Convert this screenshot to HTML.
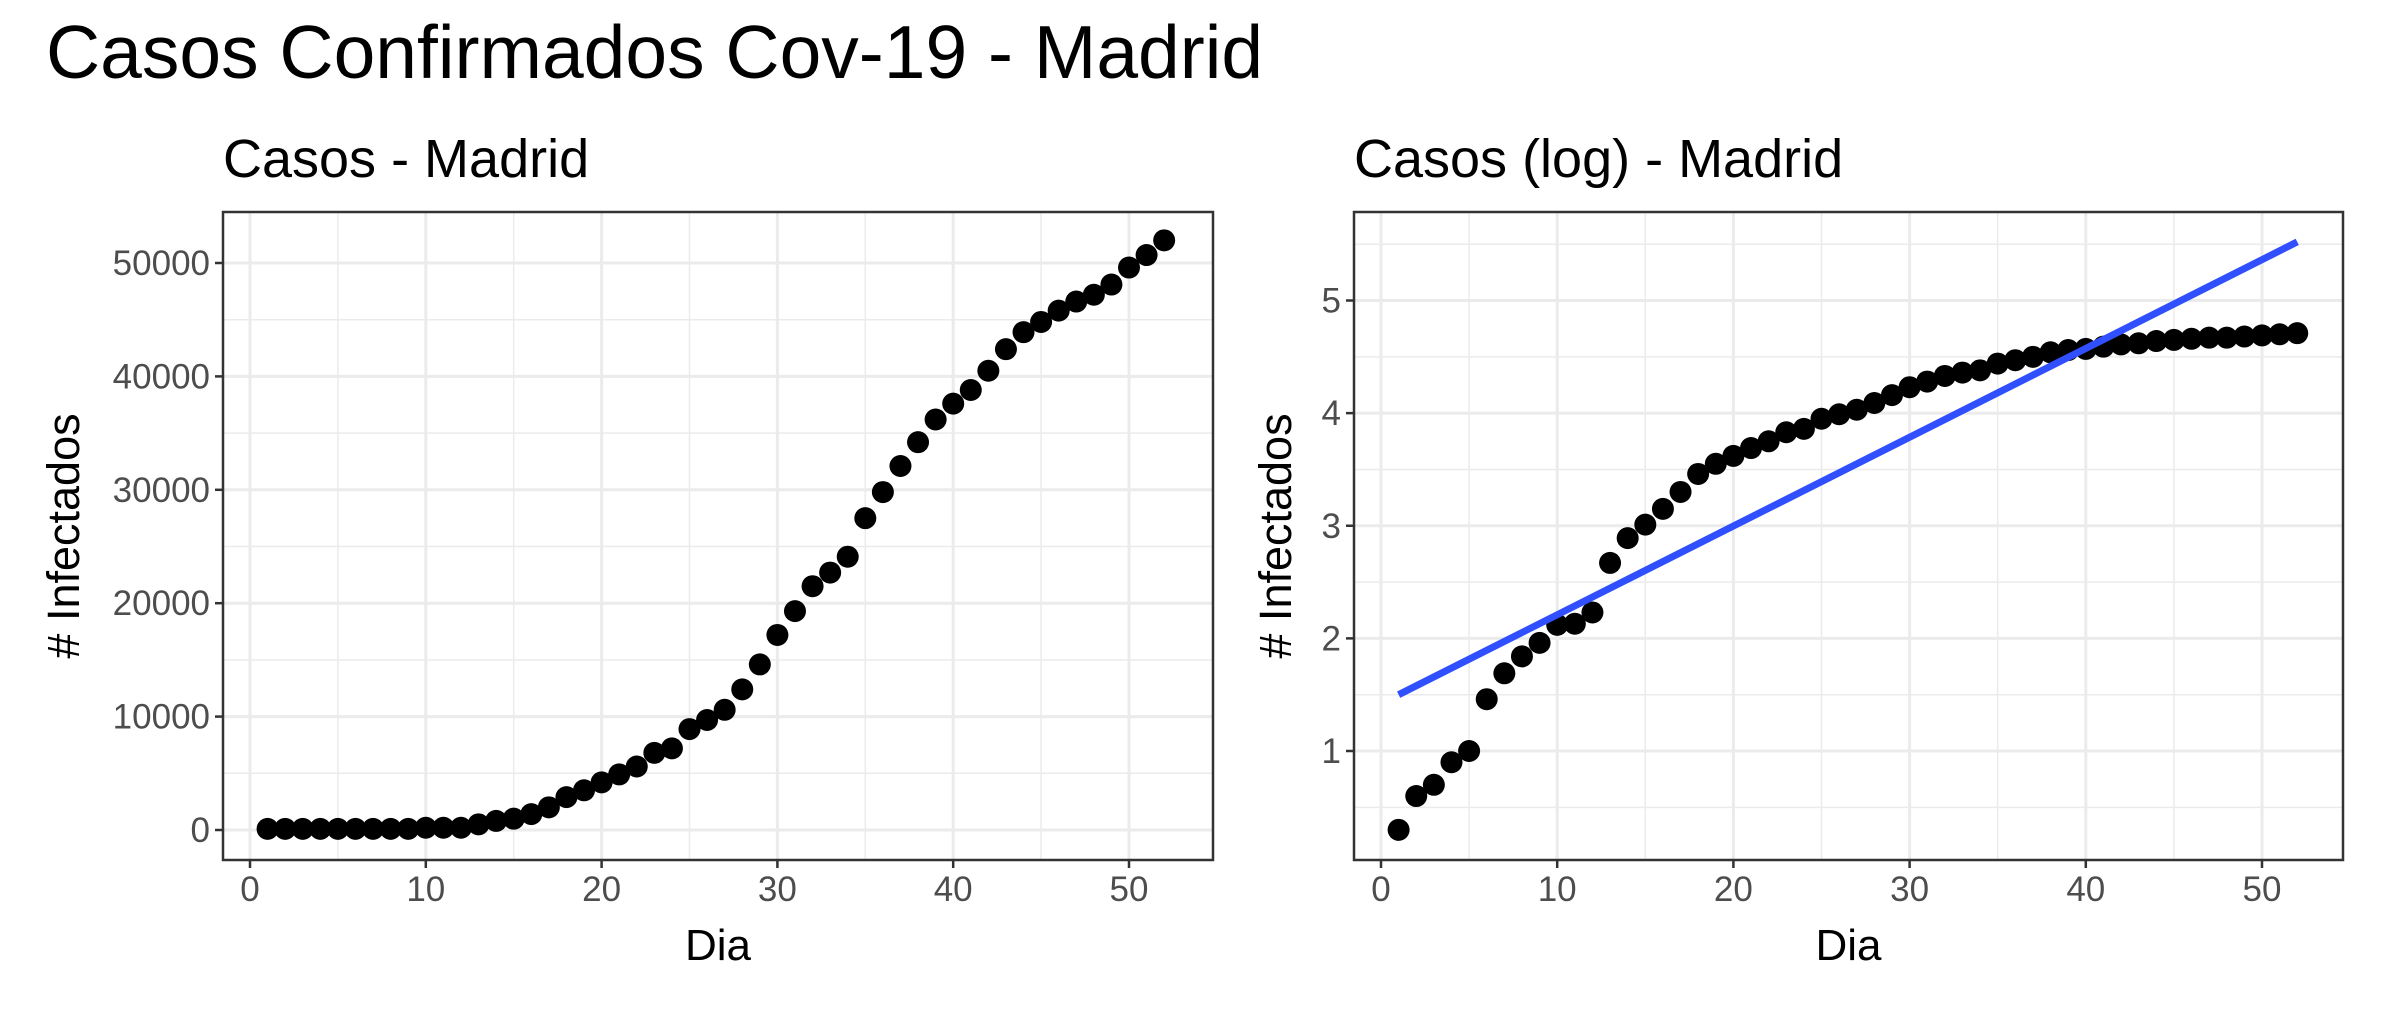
<!DOCTYPE html>
<html><head><meta charset="utf-8"><style>
html,body{margin:0;padding:0;background:#fff;}
svg{display:block;font-family:"Liberation Sans",Arial,sans-serif;}
</style></head><body>
<svg id="chart" width="2391" height="1012" viewBox="0 0 2391 1012">
<text x="46" y="78" font-size="75" fill="#000">Casos Confirmados Cov-19 - Madrid</text>
<text x="223" y="177" font-size="54" fill="#000">Casos - Madrid</text>
<text x="1354" y="177" font-size="54" fill="#000">Casos (log) - Madrid</text>
<g id="left"></g>
<g id="right"></g>
</svg>
<script>
const days = Array.from({length:52},(_,i)=>i+1);
const casos = [100,100,100,100,100,100,100,100,100,200,200,200,500,800,1000,1400,2000,2900,3500,4200,4900,5600,6800,7200,8900,9700,10600,12400,14600,17200,19300,21500,22700,24100,27500,29800,32100,34200,36200,37600,38800,40500,42400,43900,44800,45800,46600,47200,48100,49600,50700,52000];
const logCasos = [0.30,0.60,0.70,0.90,1.00,1.46,1.69,1.84,1.96,2.12,2.13,2.23,2.67,2.89,3.01,3.15,3.30,3.46,3.55,3.62,3.69,3.75,3.83,3.86,3.95,3.99,4.03,4.09,4.16,4.23,4.28,4.33,4.36,4.38,4.44,4.47,4.50,4.54,4.56,4.57,4.59,4.61,4.62,4.64,4.65,4.66,4.67,4.67,4.68,4.69,4.70,4.71];
const xTicks = [0,10,20,30,40,50];
const yTicksLeft = [0,10000,20000,30000,40000,50000];
const yTicksRight = [1,2,3,4,5];
const fitStart = 1.50, fitEnd = 5.52;

const NS="http://www.w3.org/2000/svg";
function mk(parent,tag,attrs){const e=document.createElementNS(NS,tag);for(const k in attrs)e.setAttribute(k,attrs[k]);parent.appendChild(e);return e;}

function panel(g,cfg){
  const {L,R,T,B,xs,ys,yTicks,yMinor,xMinor}=cfg;
  const bg=mk(g,'rect',{x:L,y:T,width:R-L,height:B-T,fill:'#fff'});
  
  
  xMinor.forEach(v=>{const l=mk(g,'line',{x1:xs(v),x2:xs(v),y1:T,y2:B,stroke:'#ebebeb','stroke-width':1.5});
    
    });
  yMinor.forEach(v=>{const l=mk(g,'line',{x1:L,x2:R,y1:ys(v),y2:ys(v),stroke:'#ebebeb','stroke-width':1.5});
    
    });
  xTicks.forEach(v=>{const l=mk(g,'line',{x1:xs(v),x2:xs(v),y1:T,y2:B,stroke:'#ebebeb','stroke-width':3});
    
    
    const t=mk(g,'line',{x1:xs(v),x2:xs(v),y1:B,y2:B+8,stroke:'#333','stroke-width':2.5});
    
    
    const tx=mk(g,'text',{x:xs(v),y:B+41,'font-size':35,fill:'#4d4d4d','text-anchor':'middle'});tx.textContent=v;
    
    });
  yTicks.forEach(v=>{const l=mk(g,'line',{x1:L,x2:R,y1:ys(v),y2:ys(v),stroke:'#ebebeb','stroke-width':3});
    
    
    const t=mk(g,'line',{x1:L-8,x2:L,y1:ys(v),y2:ys(v),stroke:'#333','stroke-width':2.5});
    
    
    const tx=mk(g,'text',{x:L-13,y:ys(v)+12,'font-size':35,fill:'#4d4d4d','text-anchor':'end'});tx.textContent=v;
    
    });
}

function drawPoints(g,xs,ys,vals){
  days.forEach((d,i)=>{const c=mk(g,'circle',{cx:xs(d),cy:ys(vals[i]),r:11,fill:'#000'});
    
    });
}
function border(g,L,R,T,B){
  const b=mk(g,'rect',{x:L,y:T,width:R-L,height:B-T,fill:'none',stroke:'#333','stroke-width':2.5});
  
  
}
function axisTitles(g,L,R,T,B,yx){
  const xt=mk(g,'text',{x:(L+R)/2,y:960,'font-size':44,fill:'#000','text-anchor':'middle'});xt.textContent='Dia';
  
  
  const cy=(T+B)/2;
  const yt=mk(g,'text',{x:yx,y:cy,'font-size':45,fill:'#000','text-anchor':'middle',transform:`rotate(-90 ${yx} ${cy})`});yt.textContent='# Infectados';
  
  
}

// Left panel
(function(){
  const g=document.getElementById('left');
  const L=223,R=1213,T=212,B=860;
  const xs=v=>250+v*(1129-250)/50;
  const ys=v=>830-v*(830-263)/50000;
  panel(g,{L,R,T,B,xs,ys,yTicks:yTicksLeft,yMinor:[5000,15000,25000,35000,45000],xMinor:[5,15,25,35,45]});
  drawPoints(g,xs,ys,casos);
  border(g,L,R,T,B);
  axisTitles(g,L,R,T,B,79);
})();

// Right panel
(function(){
  const g=document.getElementById('right');
  const L=1354,R=2343,T=212,B=860;
  const xs=v=>1381+v*(2262-1381)/50;
  const ys=v=>751-(v-1)*(751-300.5)/4;
  panel(g,{L,R,T,B,xs,ys,yTicks:yTicksRight,yMinor:[0.5,1.5,2.5,3.5,4.5,5.5],xMinor:[5,15,25,35,45]});
  drawPoints(g,xs,ys,logCasos);
  const fl=mk(g,'line',{x1:xs(days[0]),y1:ys(fitStart),x2:xs(days[days.length-1]),y2:ys(fitEnd),stroke:'#3050ff','stroke-width':7});
  
  
  border(g,L,R,T,B);
  axisTitles(g,L,R,T,B,1291);
})();
</script>
</body></html>
